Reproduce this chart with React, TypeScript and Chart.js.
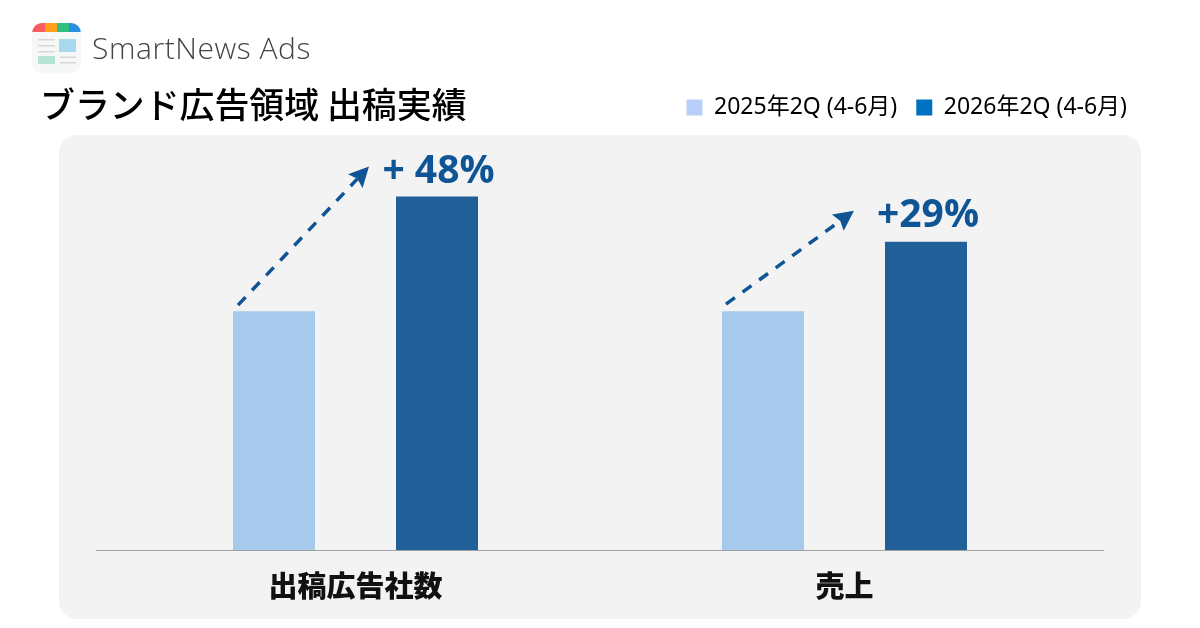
import React, { useEffect, useRef } from "react";
import { Chart, registerables } from "chart.js";

Chart.register(...registerables);

const categories = ["出稿広告社数", "売上"];
const seriesNames = ["2025年2Q (4-6月)", "2026年2Q (4-6月)"];
const values2025 = [100, 100];
const values2026 = [148, 129];
const growthLabels = ["+ 48%", "+29%"];

const BAR_2025 = "#a6c9ec";
const BAR_2026 = "#215f99";
const LEGEND_2025 = "#b8cffa";
const LEGEND_2026 = "#0070c0";
const ACCENT = "#0f5595";
const CJK = '"Noto Sans CJK JP", "Noto Sans", sans-serif';
const LATIN = '"Open Sans", "Noto Sans", sans-serif';
const LEGEND_FONT = '"Noto Sans", "Noto Sans CJK JP", sans-serif';

// per-arrow offsets relative to the bars they connect
const arrowOffsets = [
  { sx: -36, sy: -6, ex: -68, ey: -30, ly: -25, lx: 1.5 },
  { sx: -37, sy: -7, ex: -72, ey: -31, ly: -26, lx: 2 },
];

const panelPlugin = {
  id: "panel",
  beforeDraw(chart: any) {
    const { ctx, width, height } = chart;
    ctx.save();
    ctx.fillStyle = "#ffffff";
    ctx.fillRect(0, 0, width, height);
    ctx.fillStyle = "#f3f3f3";
    ctx.beginPath();
    ctx.roundRect(59, 135, 1082, 484, 18);
    ctx.fill();
    ctx.restore();
  },
};

const legendPlacePlugin = {
  id: "legendPlace",
  beforeDraw(chart: any) {
    const l = chart.legend;
    if (!l) return;
    l.left = 0;
    l.right = 1146;
    l.width = 1146;
    const h = l.height;
    l.top = 77;
    l.bottom = 77 + h;
  },
};

const annotationPlugin = {
  id: "growth",
  afterDatasetsDraw(chart: any) {
    const { ctx, chartArea } = chart;
    const a = chart.getDatasetMeta(0).data;
    const b = chart.getDatasetMeta(1).data;
    ctx.save();
    ctx.strokeStyle = "#a0a0a0";
    ctx.lineWidth = 1;
    ctx.beginPath();
    ctx.moveTo(chartArea.left - 15, chartArea.bottom + 0.5);
    ctx.lineTo(chartArea.right + 15, chartArea.bottom + 0.5);
    ctx.stroke();

    growthLabels.forEach((label, i) => {
      const o = arrowOffsets[i];
      const sx = a[i].x + o.sx;
      const sy = a[i].y + o.sy;
      const ex = b[i].x + o.ex;
      const ey = b[i].y + o.ey;
      const ang = Math.atan2(ey - sy, ex - sx);
      const headLen = 20;
      const headHalf = 10;
      ctx.strokeStyle = ACCENT;
      ctx.fillStyle = ACCENT;
      ctx.lineWidth = 3.5;
      ctx.setLineDash([11, 9.5]);
      ctx.beginPath();
      ctx.moveTo(sx, sy);
      ctx.lineTo(ex - Math.cos(ang) * (headLen - 3), ey - Math.sin(ang) * (headLen - 3));
      ctx.stroke();
      ctx.setLineDash([]);
      ctx.save();
      ctx.translate(ex, ey);
      ctx.rotate(ang);
      ctx.beginPath();
      ctx.moveTo(0, 0);
      ctx.lineTo(-headLen, -headHalf);
      ctx.lineTo(-headLen + 3, 0);
      ctx.lineTo(-headLen, headHalf);
      ctx.closePath();
      ctx.fill();
      ctx.restore();

      ctx.font = `700 39px ${LATIN}`;
      ctx.textAlign = "center";
      ctx.textBaseline = "middle";
      ctx.fillText(label, b[i].x + o.lx, b[i].y + o.ly);
    });
    ctx.restore();
  },
};

function Logo() {
  return (
    <svg width={50} height={50} viewBox="0 0 50 50" style={{ position: "absolute", left: 32, top: 23 }}>
      <defs>
        <clipPath id="logoClip">
          <rect x={0} y={0} width={49} height={50} rx={10} />
        </clipPath>
      </defs>
      <g clipPath="url(#logoClip)">
        <rect x={0} y={0} width={49} height={50} fill="#f6f7f7" />
        <rect x={0} y={0} width={13} height={9} fill="#fb5a60" />
        <rect x={13} y={0} width={12} height={9} fill="#ff9f1a" />
        <rect x={25} y={0} width={12} height={9} fill="#2fbf7f" />
        <rect x={37} y={0} width={12} height={9} fill="#2a8fe0" />
        <rect x={27} y={16} width={17} height={13} fill="#a9d9ef" />
        <rect x={6} y={33} width={17} height={8} fill="#b4e4d2" />
        <rect x={6} y={16} width={17} height={1.5} fill="#d8d8d8" />
        <rect x={6} y={22} width={17} height={1.5} fill="#d8d8d8" />
        <rect x={6} y={28} width={17} height={1.5} fill="#d8d8d8" />
        <rect x={28} y={33.5} width={16} height={1.5} fill="#d8d8d8" />
        <rect x={28} y={39} width={16} height={1.5} fill="#d8d8d8" />
      </g>
    </svg>
  );
}

export default function App() {
  const ref = useRef<HTMLCanvasElement>(null);
  useEffect(() => {
    const chart = new Chart(ref.current!, {
      type: "bar",
      data: {
        labels: categories,
        datasets: [
          { label: seriesNames[0], data: values2025, backgroundColor: BAR_2025, categoryPercentage: 326 / 489, barPercentage: 82 / 163 },
          { label: seriesNames[1], data: values2026, backgroundColor: BAR_2026, categoryPercentage: 326 / 489, barPercentage: 82 / 163 },
        ],
      },
      options: {
        responsive: false,
        animation: false,
        devicePixelRatio: 1,
        layout: { padding: { left: 111, right: 111, top: 80, bottom: 0 } },
        scales: {
          x: {
            grid: { display: false },
            border: { display: false },
            afterFit: (s: any) => { s.height = 78; },
            ticks: {
              color: "#111111",
              padding: 11,
              maxRotation: 0,
              autoSkip: false,
              font: { family: CJK, size: 29, weight: 900 },
            },
          },
          y: { display: false, min: 0, max: 175 },
        },
        plugins: {
          tooltip: { enabled: false },
          title: { display: false },
          legend: {
            position: "top",
            align: "end",
            labels: {
              boxWidth: 16,
              boxHeight: 16,
              padding: 19,
              color: "#222222",
              font: { family: LEGEND_FONT, size: 23 },
              generateLabels: () => [
                { text: seriesNames[0], fillStyle: LEGEND_2025, strokeStyle: LEGEND_2025, lineWidth: 0, datasetIndex: 0 },
                { text: seriesNames[1], fillStyle: LEGEND_2026, strokeStyle: LEGEND_2026, lineWidth: 0, datasetIndex: 1 },
              ],
            },
          },
        },
      },
      plugins: [panelPlugin, legendPlacePlugin, annotationPlugin],
    } as any);
    return () => chart.destroy();
  }, []);

  return (
    <div style={{ position: "fixed", left: 0, top: 0, width: 1200, height: 628, background: "#fff", overflow: "hidden" }}>
      <canvas ref={ref} width={1200} height={628} style={{ position: "absolute", left: 0, top: 0, display: "block" }} />
      <Logo />
      <div style={{ position: "absolute", left: 92, top: 28, fontFamily: LATIN, fontWeight: 300, fontSize: 30, lineHeight: "40px", color: "#444", letterSpacing: 0.55, whiteSpace: "pre" }}>
        SmartNews Ads
      </div>
      <div style={{ position: "absolute", left: 40, top: 79, fontFamily: CJK, fontWeight: 500, fontSize: 34.9, lineHeight: "48px", color: "#000", whiteSpace: "pre" }}>
        ブランド広告領域 出稿実績
      </div>
    </div>
  );
}
